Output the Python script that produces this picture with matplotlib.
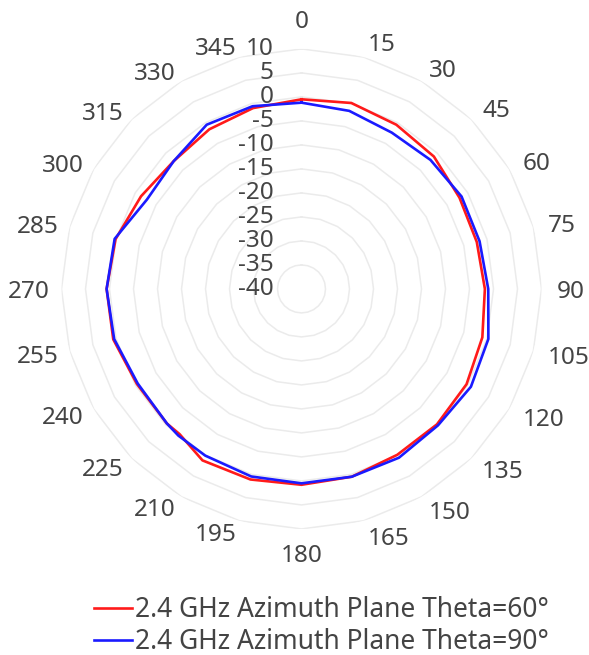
import numpy as np
import matplotlib
matplotlib.use("Agg")
import matplotlib.pyplot as plt

plt.rcParams['font.family'] = ['Noto Sans', 'DejaVu Sans']

# azimuth angle (deg) and gain (dB)
angles = [0, 15, 30, 45, 60, 75, 90, 105, 120, 135, 150, 165,
          180, 195, 210, 220, 225, 240, 255, 270, 285, 300, 315, 330, 345]
theta60 = [-0.5, 0.1, -0.5, -1.0, -2.0, -2.2, -1.8, -1.0, -0.3, -0.1, -0.1, 0.5,
           0.8, 1.1, 1.25, -0.5, -0.35, -0.4, 0.6, 0.6, 0.1, -1.4, -2.35, -1.6, -1.0]
theta90 = [-1.2, -1.6, -2.4, -2.0, -1.5, -1.6, -1.1, 0.3, 0.75, 0.2, 0.6, 0.5,
           0.5, 0.45, 0.1, -0.1, -0.35, -0.6, 0.4, 0.6, 0.3, -2.8, -2.35, -0.5, -0.6]

r_ticks = [10, 5, 0, -5, -10, -15, -20, -25, -30, -35, -40]
theta_ticks = list(range(0, 360, 15))
labels = ['2.4 GHz Azimuth Plane Theta=60°', '2.4 GHz Azimuth Plane Theta=90°']

txt = '#444444'
fs = 17.5

fig = plt.figure(figsize=(5.89, 6.55), dpi=100)
ax = fig.add_axes([0.1044, 0.1924, 0.815, 0.733], projection='polar')
ax.set_theta_zero_location('N')
ax.set_theta_direction(-1)
ax.set_ylim(-40, 10)

# polygonal grid rings
ring_t = np.deg2rad(theta_ticks + [0])
for r in r_ticks[:-1]:
    ax.plot(ring_t, [r] * len(ring_t), color='#ebebeb', lw=1.1, zorder=1)

ax.grid(False)
ax.spines['polar'].set_visible(False)
ax.set_yticks([])
ax.set_xticks([])

# angle labels, anchored just outside the outer ring
for a in theta_ticks:
    s, c = np.sin(np.deg2rad(a)), np.cos(np.deg2rad(a))
    d = 11
    if a == 0:
        ha, va = 'center', 'bottom'
    elif a == 180:
        ha, va = 'center', 'top'
    else:
        ha = 'left' if s > 0 else 'right'
        va = 'center_baseline'
        if s < 0:
            d = 8.5
    ax.annotate(str(a), xy=(np.deg2rad(a), 10), xytext=(d * s, d * c),
                textcoords='offset points', ha=ha, va=va, fontsize=fs,
                color=txt, annotation_clip=False)

for r in r_ticks:
    ax.annotate(str(r), xy=(0, r), xytext=(-20, 0), textcoords='offset points',
                ha='right', va='center', fontsize=fs, color=txt, annotation_clip=False)

t = np.deg2rad(angles + [angles[0]])
l1, = ax.plot(t, theta60 + [theta60[0]], color='#ff1a1a', lw=1.9, zorder=3)
l2, = ax.plot(t, theta90 + [theta90[0]], color='#1a1aff', lw=1.9, zorder=4)

leg = fig.legend([l1, l2], labels, loc='lower center', bbox_to_anchor=(0.545, -0.026),
                 frameon=False, fontsize=19, handlelength=1.45, handletextpad=0.1,
                 labelspacing=0.15, borderaxespad=0.2)
for tx in leg.get_texts():
    tx.set_color(txt)

fig.savefig('out.png', dpi=100)
